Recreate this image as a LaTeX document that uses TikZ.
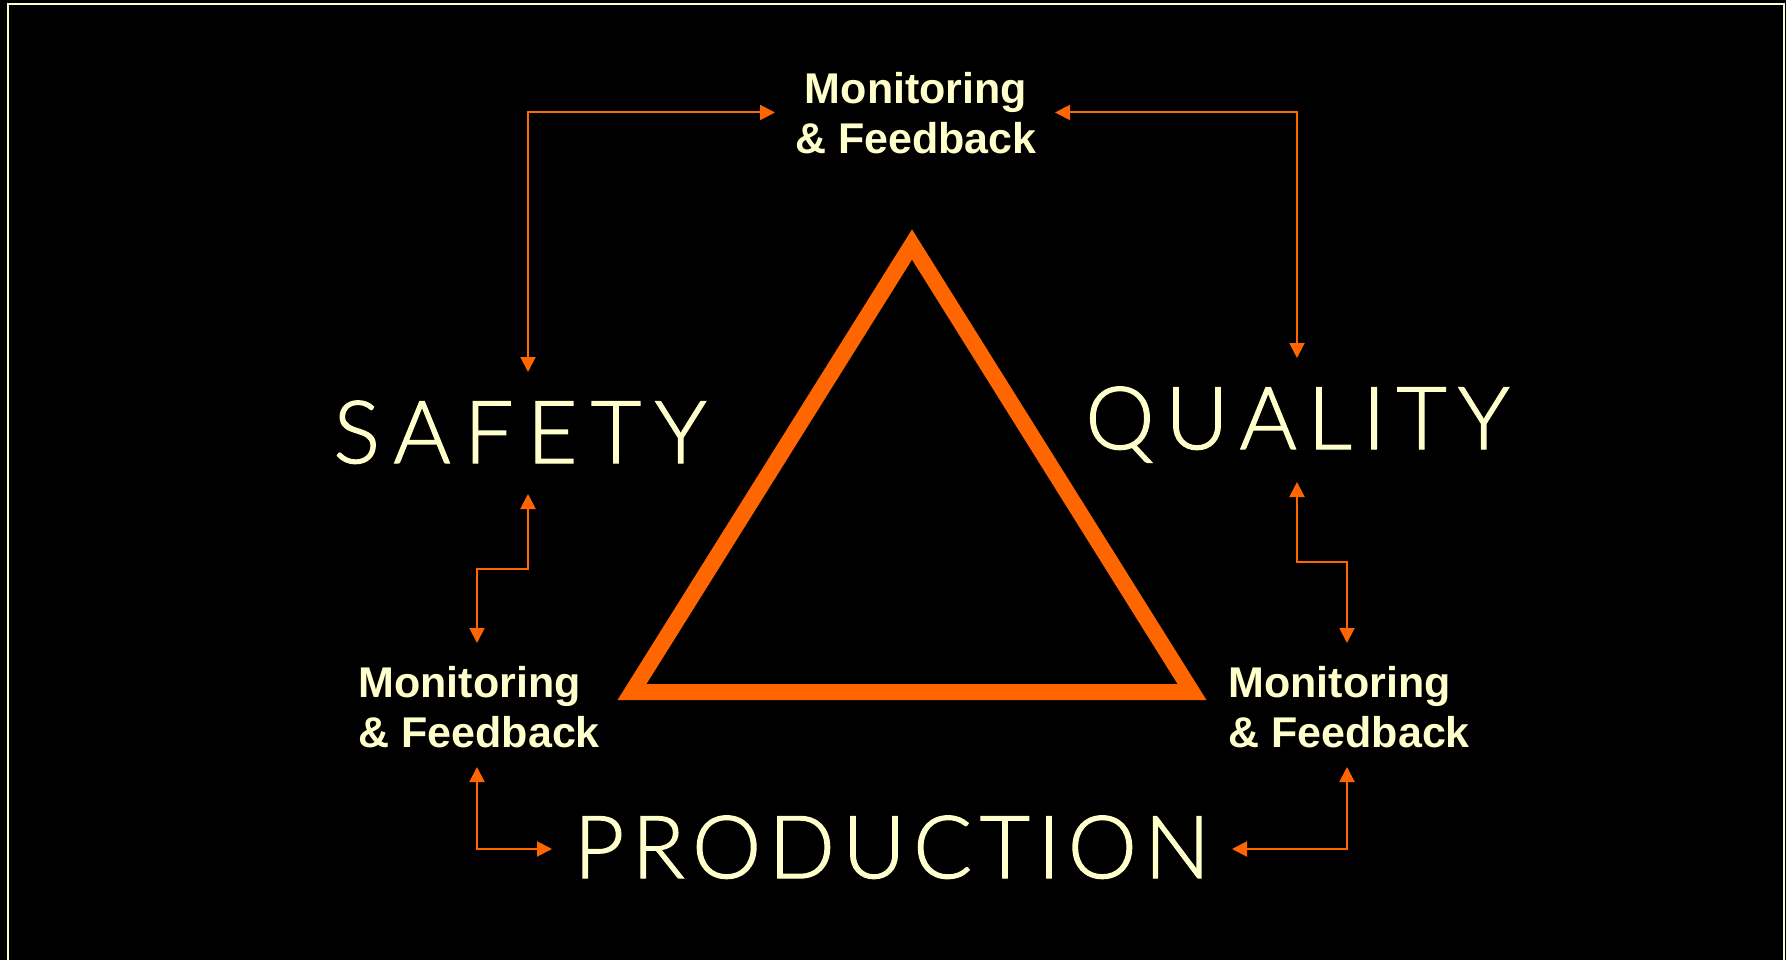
\documentclass[tikz,border=0pt]{standalone}
\usepackage{fontspec}
\setmainfont{Liberation Sans}
\IfFontExistsTF{Lato Light}{\newfontfamily\bigfont[FakeBold=1.5]{Lato Light}}{\newfontfamily\bigfont{Lato}}
\usetikzlibrary{arrows.meta}

\definecolor{cream}{HTML}{FFFFCC}
\definecolor{hazard}{HTML}{FF6600}

% Spread the letters of a word so that it fills a given width
\makeatletter
\newlength\sw@nat \newlength\sw@gap \newlength\sw@tmp
\newcount\sw@n
\newcommand\spreadword[2]{%
  \sw@nat=0pt \sw@n=0
  \@tfor\sw@ch:=#2\do{\settowidth\sw@tmp{\sw@ch}\advance\sw@nat\sw@tmp\advance\sw@n\@ne}%
  \sw@gap=\dimexpr(#1-\sw@nat)/\numexpr\sw@n-1\relax\relax
  \@tempswafalse
  \@tfor\sw@ch:=#2\do{\if@tempswa\kern\sw@gap\fi\@tempswatrue\sw@ch}%
}
\makeatother

\begin{document}
\begin{tikzpicture}[x=1pt, y=-1pt,
  bigword/.style={font=\bigfont\fontsize{87}{90}\selectfont, text=cream,
    anchor=base, inner sep=0pt, outer sep=0pt},
  mf/.style={font=\bfseries\fontsize{43}{50}\selectfont, text=cream,
    inner sep=0pt, outer sep=0pt},
  link/.style={draw=hazard, line width=2pt,
    {Triangle[length=15pt, width=15pt]}-{Triangle[length=15pt, width=15pt]}}]

  % canvas and frame
  \fill[black] (0,0) rectangle (1786,960);
  \useasboundingbox (0,0) rectangle (1786,960);
  \draw[cream, line width=2.5pt] (8,962) -- (8,4) -- (1784,4) -- (1784,962);

  % central triangle
  \draw[hazard, line width=16pt, line join=miter]
    (912,244.5) -- (1192,692) -- (632,692) -- cycle;

  % the three goals
  \node[bigword] (safety) at (520,463) {\spreadword{373pt}{SAFETY}};
  \node[bigword] (quality) at (1297.5,449) {\spreadword{424pt}{QUALITY}};
  \node[bigword] (production) at (892,878) {\spreadword{636pt}{PRODUCTION}};

  % monitoring and feedback loops
  \node[mf, align=center, anchor=center] (mfTop) at (916,113.5) {Monitoring\\\& Feedback};
  \node[mf, align=left, anchor=west] (mfLeft) at (358.5,707) {Monitoring\\\& Feedback};
  \node[mf, align=left, anchor=west] (mfRight) at (1228.5,707) {Monitoring\\\& Feedback};

  % connector end points around the labels
  \coordinate (safetyUp) at (528,372);
  \coordinate (safetyDown) at (528,494);
  \coordinate (qualityUp) at (1297,358);
  \coordinate (qualityDown) at (1297,482);
  \coordinate (mfTopW) at (775,112.5);
  \coordinate (mfTopE) at (1055,112.5);
  \coordinate (mfLeftN) at (477,643);
  \coordinate (mfLeftS) at (477,767);
  \coordinate (mfRightN) at (1347,643);
  \coordinate (mfRightS) at (1347,767);
  \coordinate (productionW) at (552,849);
  \coordinate (productionE) at (1232,849);

  \draw[link] (safetyUp) |- (mfTopW);
  \draw[link] (mfTopE) -| (qualityUp);
  \draw[link] (safetyDown) -- ++(0,75) -| (mfLeftN);
  \draw[link] (qualityDown) -- ++(0,80) -| (mfRightN);
  \draw[link] (mfLeftS) |- (productionW);
  \draw[link] (mfRightS) |- (productionE);
\end{tikzpicture}
\end{document}
